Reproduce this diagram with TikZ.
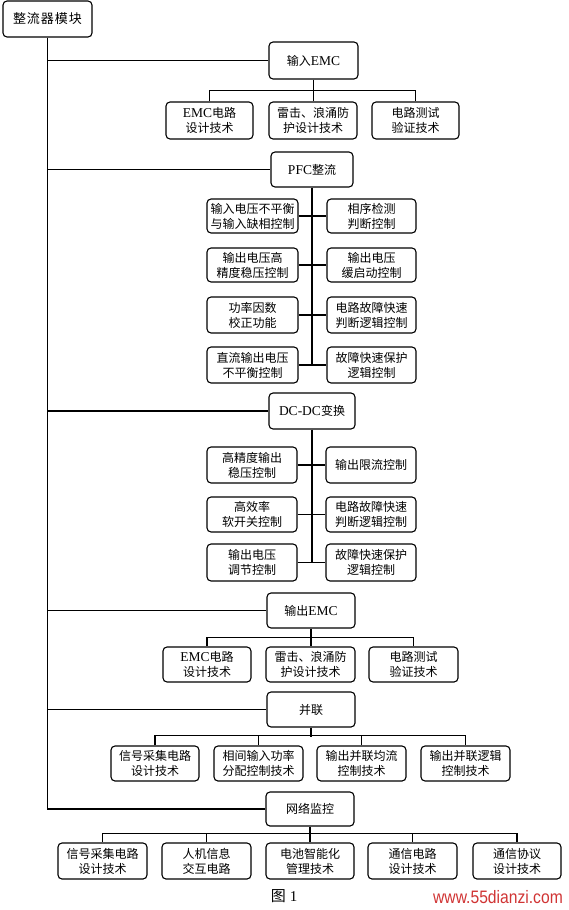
\documentclass[tikz,border=0pt]{standalone}
\usepackage{fontspec}
\setmainfont{Noto Sans CJK SC}
\newfontfamily\latf{Liberation Serif}
\newfontfamily\wmf{Liberation Sans}
\newcommand{\lat}[1]{{\latf\fontsize{13.5}{15}\selectfont #1}}
\definecolor{wmred}{HTML}{D03434}
\begin{document}
\begin{tikzpicture}[x=1pt,y=-1pt,
  bx/.style={draw, line width=1.1pt, rounded corners=4pt, inner sep=0pt,
    align=center, font=\fontsize{12}{15}\selectfont},
  ln/.style={line width=1.1pt}]
\useasboundingbox (0,0) rectangle (568,910);
\newcommand{\bxat}[6]{%
  \node[bx, minimum width={#4-#2}, minimum height={#5-#3}] (#1) at ({(#2+#4)/2},{(#3+#5)/2}) {#6};}
% top
\bxat{top}{3}{1}{92}{37}{\fontsize{13}{15}\selectfont 整\hspace{1pt}流\hspace{1pt}器\hspace{1pt}模\hspace{1pt}块}
% input EMC
\bxat{inEMC}{269}{42}{358}{79}{输入\lat{EMC}}
\bxat{ie1}{166}{102}{253}{139}{\lat{EMC}电路\\设计技术}
\bxat{ie2}{269}{102}{357}{139}{雷击、浪涌防\\护设计技术}
\bxat{ie3}{372}{102}{459}{139}{电路测试\\验证技术}
% PFC
\bxat{pfc}{271}{152}{353}{187}{\lat{PFC}整流}
\bxat{p1L}{207}{199}{298}{233}{输入电压不平衡\\与输入缺相控制}
\bxat{p1R}{327}{199}{416}{233}{相序检测\\判断控制}
\bxat{p2L}{207}{248}{298}{282}{输出电压高\\精度稳压控制}
\bxat{p2R}{327}{248}{416}{282}{输出电压\\缓启动控制}
\bxat{p3L}{207}{297}{298}{333}{功率因数\\校正功能}
\bxat{p3R}{327}{297}{416}{333}{电路故障快速\\判断逻辑控制}
\bxat{p4L}{207}{347}{298}{383}{直流输出电压\\不平衡控制}
\bxat{p4R}{327}{347}{416}{383}{故障快速保护\\逻辑控制}
% DC-DC
\bxat{dcdc}{269}{393}{355}{429}{\lat{DC-DC}变换}
\bxat{d1L}{207}{447}{297}{483}{高精度输出\\稳压控制}
\bxat{d1R}{326}{447}{416}{483}{输出限流控制}
\bxat{d2L}{207}{497}{297}{532}{高效率\\软开关控制}
\bxat{d2R}{326}{497}{416}{532}{电路故障快速\\判断逻辑控制}
\bxat{d3L}{207}{544}{297}{581}{输出电压\\调节控制}
\bxat{d3R}{326}{544}{416}{581}{故障快速保护\\逻辑控制}
% output EMC
\bxat{outEMC}{267}{593}{355}{628}{输出\lat{EMC}}
\bxat{oe1}{163}{647}{251}{682}{\lat{EMC}电路\\设计技术}
\bxat{oe2}{266}{647}{355}{682}{雷击、浪涌防\\护设计技术}
\bxat{oe3}{369}{647}{458}{682}{电路测试\\验证技术}
% parallel
\bxat{par}{267}{692}{355}{727}{并联}
\bxat{pa1}{111}{746}{199}{781}{信号采集电路\\设计技术}
\bxat{pa2}{214}{746}{303}{781}{相间输入功率\\分配控制技术}
\bxat{pa3}{317}{746}{406}{781}{输出并联均流\\控制技术}
\bxat{pa4}{421}{746}{510}{781}{输出并联逻辑\\控制技术}
% network
\bxat{net}{266}{792}{354}{826}{网络监控}
\bxat{n1}{58}{843}{147}{879}{信号采集电路\\设计技术}
\bxat{n2}{162}{843}{251}{879}{人机信息\\交互电路}
\bxat{n3}{266}{843}{354}{879}{电池智能化\\管理技术}
\bxat{n4}{368}{843}{457}{879}{通信电路\\设计技术}
\bxat{n5}{473}{843}{561}{879}{通信协议\\设计技术}
% caption & watermark
\node[inner sep=0pt, font=\fontsize{15}{17}\selectfont] (cap) at (284,896) {图\hspace{4pt}{\latf 1}};
\node[inner sep=0pt, text=wmred, font=\wmf\fontsize{18}{20}\selectfont, xscale=0.87] (wm) at (498,897) {www.55dianzi.com};
% main trunk
\draw[ln] (top.south) |- (net.west);
\foreach \s in {inEMC,pfc,dcdc,outEMC,par}{
  \draw[ln] (top.south |- \s.west) -- (\s.west);
}
% input EMC children
\draw[ln] (inEMC.south) -- (inEMC.south |- ie2.north);
\draw[ln] (ie1.north) -- ++(0,-11) -| (ie3.north);
% PFC
\draw[ln] (pfc.south) -- (pfc.south |- p4L.east);
\foreach \r in {1,2,3,4}{ \draw[ln] (p\r L.east) -- (p\r R.west); }
% DC-DC
\draw[ln] (dcdc.south) -- (dcdc.south |- d3L.east);
\foreach \r in {1,2,3}{ \draw[ln] (d\r L.east) -- (d\r R.west); }
% output EMC
\draw[ln] (outEMC.south) -- (outEMC.south |- oe2.north);
\draw[ln] (oe1.north) -- ++(0,-9) -| (oe3.north);
% parallel
\draw[ln] (par.south) -- ++(0,9);
\draw[ln] (pa1.north) -- ++(0,-10) -| (pa4.north);
\draw[ln] (pa2.north) -- ++(0,-10);
\draw[ln] (pa3.north) -- ++(0,-10);
% network
\draw[ln] (net.south) -- (net.south |- n3.north);
\draw[ln] (n1.north) -- ++(0,-9) -| (n5.north);
\draw[ln] (n2.north) -- ++(0,-9);
\draw[ln] (n4.north) -- ++(0,-9);
\end{tikzpicture}
\end{document}
